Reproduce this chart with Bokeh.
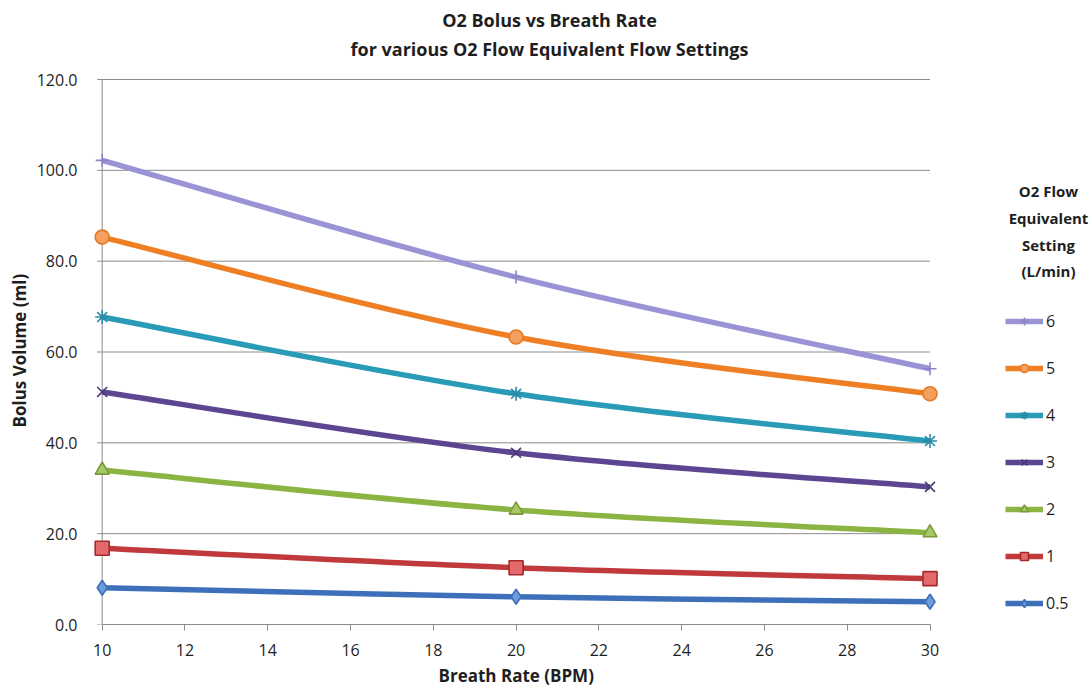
from bokeh.plotting import figure
from bokeh.models import Legend, LegendItem, Label, Title, FixedTicker, NumeralTickFormatter, Range1d
from bokeh.embed import file_html
from bokeh.resources import INLINE

# ---------------- data ----------------
breath_rate = [10, 20, 30]
settings = ["6", "5", "4", "3", "2", "1", "0.5"]
bolus_6 = [102.2, 76.5, 56.3]
bolus_5 = [85.3, 63.3, 50.8]
bolus_4 = [67.7, 50.8, 40.4]
bolus_3 = [51.2, 37.8, 30.3]
bolus_2 = [34.0, 25.2, 20.2]
bolus_1 = [16.8, 12.5, 10.1]
bolus_05 = [8.1, 6.1, 5.0]
series_values = [bolus_6, bolus_5, bolus_4, bolus_3, bolus_2, bolus_1, bolus_05]
x_ticks = [10, 12, 14, 16, 18, 20, 22, 24, 26, 28, 30]
y_ticks = [0, 20, 40, 60, 80, 100, 120]
title_lines = ["O2 Bolus vs Breath Rate", "for various O2 Flow Equivalent Flow Settings"]
legend_title_lines = ["O2 Flow", "Equivalent", "Setting", "(L/min)"]

# ---------------- styles ----------------
line_colors = ["#9A94D6", "#EF7F24", "#2A9BB6", "#5C4591", "#8CB443", "#C0393B", "#3E70B9"]
markers = ["cross", "circle", "asterisk", "x", "triangle", "square", "diamond"]
marker_fill = ["#9A94D6", "#F5A05E", "#2A9BB6", "#5C4591", "#A6C866", "#E36A6C", "#6E9CDB"]
marker_line = ["#8A84C6", "#E57822", "#2A8BA6", "#4A3A78", "#7A9A3A", "#A8282C", "#3E70B9"]
marker_size = [13, 14, 14, 14, 14, 14, 15]

FONT = "Open Sans"
GRID = "#8C8C8C"
TXT = "#1E1E1E"

# page geometry (Bokeh's page has no body margin, so page px = figure px)
W, H = 1089, 694
BL, BT, BB = 92, 0, 70
FL, FT = BL, BT
FB = H - BB                        # frame bottom (y = 0)
X10, X30 = 101.7, 929.5            # where 10 and 30 sit
Y120 = 79                          # where 120 sits
PXX = (X30 - X10) / 20
PXY = (FB - Y120) / 120
x_lo = 10 - (X10 - FL) / PXX
x_hi = x_lo + (W - BL) / PXX
y_lo = 0.0
y_hi = 120 + (Y120 - FT) / PXY


def dx(page_x):
    return x_lo + (page_x - FL) / PXX


def dy(page_y):
    return (FB - page_y) / PXY


p = figure(width=W, height=H, output_backend="svg", toolbar_location=None,
           x_range=Range1d(x_lo, x_hi), y_range=Range1d(y_lo, y_hi),
           min_border_left=BL, min_border_right=0, min_border_top=BT, min_border_bottom=BB)
p.outline_line_color = None
p.background_fill_color = "white"
p.border_fill_color = "white"
p.xgrid.visible = False
p.ygrid.visible = False

# gridlines (with the small outside ticks) and the vertical axis line
tick_len = 5 / PXX
p.segment(x0=[breath_rate[0] - tick_len] * len(y_ticks), x1=[breath_rate[-1]] * len(y_ticks),
          y0=y_ticks, y1=y_ticks, line_color=GRID, line_width=1)
p.segment(x0=[breath_rate[0]], x1=[breath_rate[0]], y0=[y_ticks[0]], y1=[y_ticks[-1]],
          line_color=GRID, line_width=1)

# x axis
xa = p.xaxis[0]
xa.bounds = (breath_rate[0], breath_rate[-1])
xa.ticker = FixedTicker(ticks=x_ticks)
xa.minor_tick_line_color = None
xa.major_tick_out = 6
xa.major_tick_in = 0
xa.axis_line_color = GRID
xa.major_tick_line_color = GRID
xa.major_label_text_font = FONT
xa.major_label_text_font_size = "16px"
xa.major_label_text_color = TXT
xa.major_label_standoff = 13

# y axis
ya = p.yaxis[0]
ya.ticker = FixedTicker(ticks=y_ticks)
ya.formatter = NumeralTickFormatter(format="0.0")
ya.axis_line_color = None
ya.major_tick_line_color = None
ya.minor_tick_line_color = None
ya.major_label_text_font = FONT
ya.major_label_text_font_size = "16px"
ya.major_label_text_color = TXT
ya.major_label_standoff = 9

# axis titles (panel titles, positioned so they centre on the 10..30 / 0..120 area)
p.add_layout(Title(text="Breath Rate (BPM)", align="left", offset=346, standoff=6,
                   text_font=FONT, text_font_style="bold", text_font_size="17px",
                   text_color=TXT), "below")
p.add_layout(Title(text="Bolus Volume (ml)", align="left", offset=197, standoff=6,
                   text_font=FONT, text_font_style="bold", text_font_size="17px",
                   text_color=TXT), "left")


def smooth_controls(xs, ys):
    """Excel-style smoothed line: cubic Bezier control points from the data."""
    n = len(xs)
    out = {"x0": [], "y0": [], "x1": [], "y1": [], "cx0": [], "cy0": [], "cx1": [], "cy1": []}
    for i in range(n - 1):
        ip = max(i - 1, 0)
        inn = min(i + 2, n - 1)
        out["x0"].append(xs[i]); out["y0"].append(ys[i])
        out["x1"].append(xs[i + 1]); out["y1"].append(ys[i + 1])
        out["cx0"].append(xs[i] + (xs[i + 1] - xs[ip]) / 6)
        out["cy0"].append(ys[i] + (ys[i + 1] - ys[ip]) / 6)
        out["cx1"].append(xs[i + 1] - (xs[inn] - xs[i]) / 6)
        out["cy1"].append(ys[i + 1] - (ys[inn] - ys[i]) / 6)
    return out


items = []
for k in reversed(range(len(settings))):
    ys = series_values[k]
    c = smooth_controls(breath_rate, ys)
    r_line = p.bezier(x0=c["x0"], y0=c["y0"], x1=c["x1"], y1=c["y1"],
                      cx0=c["cx0"], cy0=c["cy0"], cx1=c["cx1"], cy1=c["cy1"],
                      line_color=line_colors[k], line_width=5.5)
    r_mark = p.scatter(breath_rate, ys, marker=markers[k], size=marker_size[k],
                       fill_color=marker_fill[k], line_color=marker_line[k], line_width=1.6)
    items.append((k, LegendItem(label=settings[k], renderers=[r_line, r_mark])))

items.sort(key=lambda t: t[0])
legend = Legend(items=[it for _, it in items], location=(1005 - FL, FB - 614),
                orientation="vertical", glyph_width=38, glyph_height=20, label_height=20,
                spacing=25, padding=0, margin=0, label_standoff=3,
                label_text_font=FONT, label_text_font_size="16px", label_text_color=TXT,
                border_line_color=None, background_fill_alpha=0)
p.add_layout(legend, "center")

# legend title
for txt, py in zip(legend_title_lines, [190, 217, 244, 270]):
    p.add_layout(Label(x=dx(1048), y=dy(py), text=txt, text_align="center", text_baseline="middle",
                       text_font=FONT, text_font_style="bold", text_font_size="15px",
                       text_color=TXT))

# chart title
for txt, py in zip(title_lines, [19, 48]):
    p.add_layout(Label(x=dx(549), y=dy(py), text=txt, text_align="center", text_baseline="middle",
                       text_font=FONT, text_font_style="bold", text_font_size="18px",
                       text_color=TXT))

open("out.html", "w").write(file_html(p, INLINE))
